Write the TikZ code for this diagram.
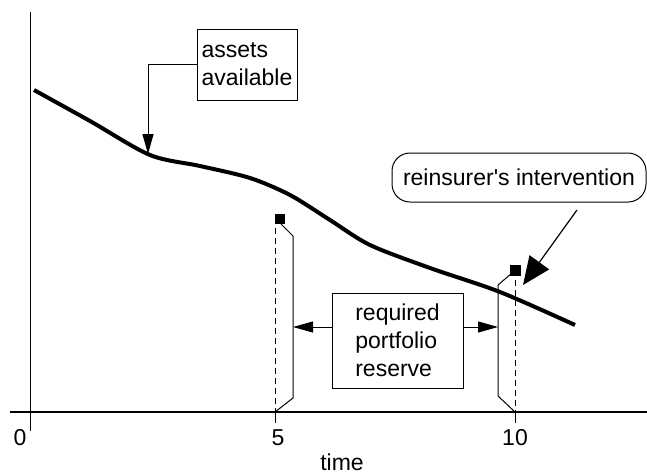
\documentclass[tikz,border=0pt]{standalone}
\usepackage{fontspec}
\setmainfont{Liberation Sans}
\usepackage{tikz}
\usetikzlibrary{arrows.meta}

\begin{document}
\begin{tikzpicture}[
  x=0.5pt, y=0.5pt,
  every node/.style={font=\fontsize{11.5}{14}\selectfont},
  txtbox/.style={
    draw, line width=0.5pt, align=left,
    inner sep=0pt
  },
  arr/.style={line width=0.5pt, -{Triangle[length=10pt,width=5.5pt]}},
  bigarr/.style={line width=0.6pt, -{Triangle[length=14pt,width=12pt]}},
  sq/.style={draw, fill=black, inner sep=0pt}
]
  \useasboundingbox (-30,-61) rectangle (617,412);
  % axes
  \draw[line width=0.5pt] (0,400) -- (0,-19);
  \draw[line width=0.9pt] (-20,0) -- (617,0);
  \foreach \x/\t in {245/5,485/10} {
    \draw[line width=0.5pt] (\x,0) -- (\x,-11);
  }
  \node (t0) at (-10,-26){0};
  \node (t5) at (248,-26){5};
  \node (t10) at (485,-26){10};
  \node (tm) at (312,-50){time};
  % assets
  \draw[line width=2pt] plot[smooth, tension=0.5] coordinates {
    (4,322) (60,291) (120,257) (170,246) (220,234) (260,217)
    (300,192) (340,167) (400,144) (470,120) (545,87)};
  % reserve markers
  \draw[line width=0.5pt, dash pattern=on 3pt off 2pt] (245,194) -- (245,0);
  \draw[line width=0.5pt, dash pattern=on 3pt off 2pt] (485,142) -- (485,0);
  \node[sq, minimum size=4.5pt] (m5) at (249.5,193){};
  \node[sq, minimum size=5pt] (m10) at (485,142){};
  \draw[line width=0.5pt] (251,188) -- (263,176) -- (263,14) -- (245,0);
  \draw[line width=0.5pt] (482,139) -- (468,127) -- (468,16) -- (485,0);
  % boxes
  \node[txtbox, minimum width=50pt, minimum height=35.5pt] (assets)
    at (217,347.5){assets\\available};
  \node[txtbox, minimum width=65.5pt, minimum height=47.5pt] (reserve)
    at (367.5,71.5){required\\portfolio\\reserve};
  \node[txtbox, rounded corners=9pt, minimum width=127pt,
    minimum height=24.5pt] (reins) at (489,234.5)
    {reinsurer\textquotesingle s intervention};
  % arrows
  \coordinate (kink) at (118,258);
  \coordinate (b5) at (263,85);
  \coordinate (b10) at (468,85);
  \coordinate (rs) at (547,202);
  \coordinate (rt) at (493,127);
  \draw[arr] (assets.west) -| (kink);
  \draw[arr] (reserve.west |- b5) -- (b5);
  \draw[arr] (reserve.east |- b10) -- (b10);
  \draw[bigarr] (rs) -- (rt);
\end{tikzpicture}
\end{document}
